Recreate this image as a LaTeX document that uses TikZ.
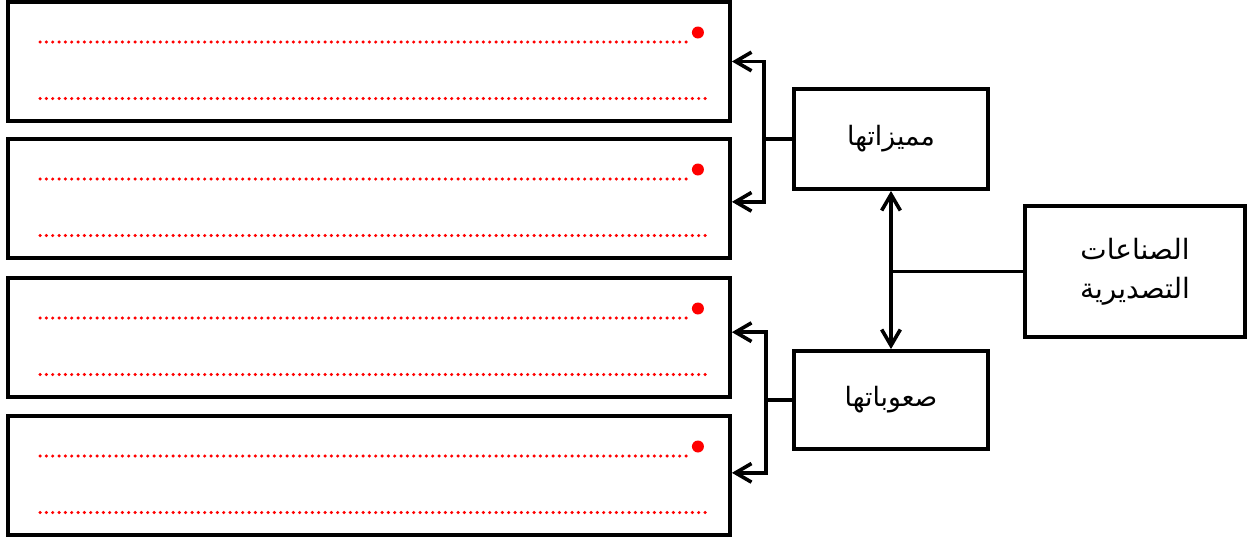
\documentclass[tikz,border=0pt]{standalone}
\usepackage{fontspec}
\usetikzlibrary{arrows.meta}
\TeXXeTstate=1
\newfontfamily\arabicfont[Script=Arabic]{DejaVu Sans}
\definecolor{vred}{HTML}{FF0000}

\tikzset{
	leftbox/.style = {draw, line width=2.9pt, minimum width=541.5pt, minimum height=89pt, inner sep=0pt},
	topicbox/.style = {draw, line width=2.9pt, minimum width=145.5pt, minimum height=75pt, inner sep=0pt, font=\arabicfont\fontsize{20}{30}\selectfont},
	link/.style = {line width=2.7pt},
	arr/.style = {link, -{Straight Barb[length=12pt,width=14pt,line width=2.7pt]}},
	dblarr/.style = {link, {Straight Barb[length=12pt,width=14pt,line width=2.7pt]}-{Straight Barb[length=12pt,width=14pt,line width=2.7pt]}},
	reddots/.style = {vred, line width=2.6pt, line cap=round, dash pattern=on 0pt off 4.75pt}
}

\begin{document}
\begin{tikzpicture}[x=0.75pt, y=-0.75pt]
		\useasboundingbox (0,0) rectangle (1253,537);
		% answer boxes on the left
		\node[leftbox] (b1) at (369,61.5) {};
		\node[leftbox] (b2) at (369,198.5) {};
		\node[leftbox] (b3) at (369,337.5) {};
		\node[leftbox] (b4) at (369,475.5) {};
		\foreach \b in {b1,b2,b3,b4} {
			\draw[reddots] ([shift={(34,-19.5)}]\b.west) -- ([shift={(-40,-19.5)}]\b.east);
			\draw[reddots] ([shift={(34,37)}]\b.west) -- ([shift={(-22,37)}]\b.east);
			\fill[vred] ([shift={(-34,-29)}]\b.east) circle (4.5pt);
		}
		% topic boxes
		\node[topicbox, minimum width=165pt, minimum height=98pt, align=center, font=\arabicfont\fontsize{21}{29}\selectfont] (main) at (1135,271.5) {\beginR الصناعات\endR\\\beginR التصديرية\endR};
		\node[topicbox] (mm) at (891,139) {\beginR مميزاتها\endR};
		\node[topicbox, minimum height=73.5pt] (su) at (891,400) {\beginR صعوباتها\endR};
		% connectors
		\draw[link] (main.west) -- (main.west -| mm.south);
		\draw[dblarr] (mm.south) -- (su.north);
		\draw[link] (mm.west) -- ++(-28,0) coordinate (mmj);
		\draw[arr] (mmj) |- (b1.east);
		\draw[arr] (mmj) |- ([yshift=-2.5pt]b2.east);
		\draw[link] (su.west) -- ++(-26,0) coordinate (suj);
		\draw[arr] (suj) |- ([yshift=4pt]b3.east);
		\draw[arr] (suj) |- ([yshift=2pt]b4.east);
	\end{tikzpicture}
\end{document}
